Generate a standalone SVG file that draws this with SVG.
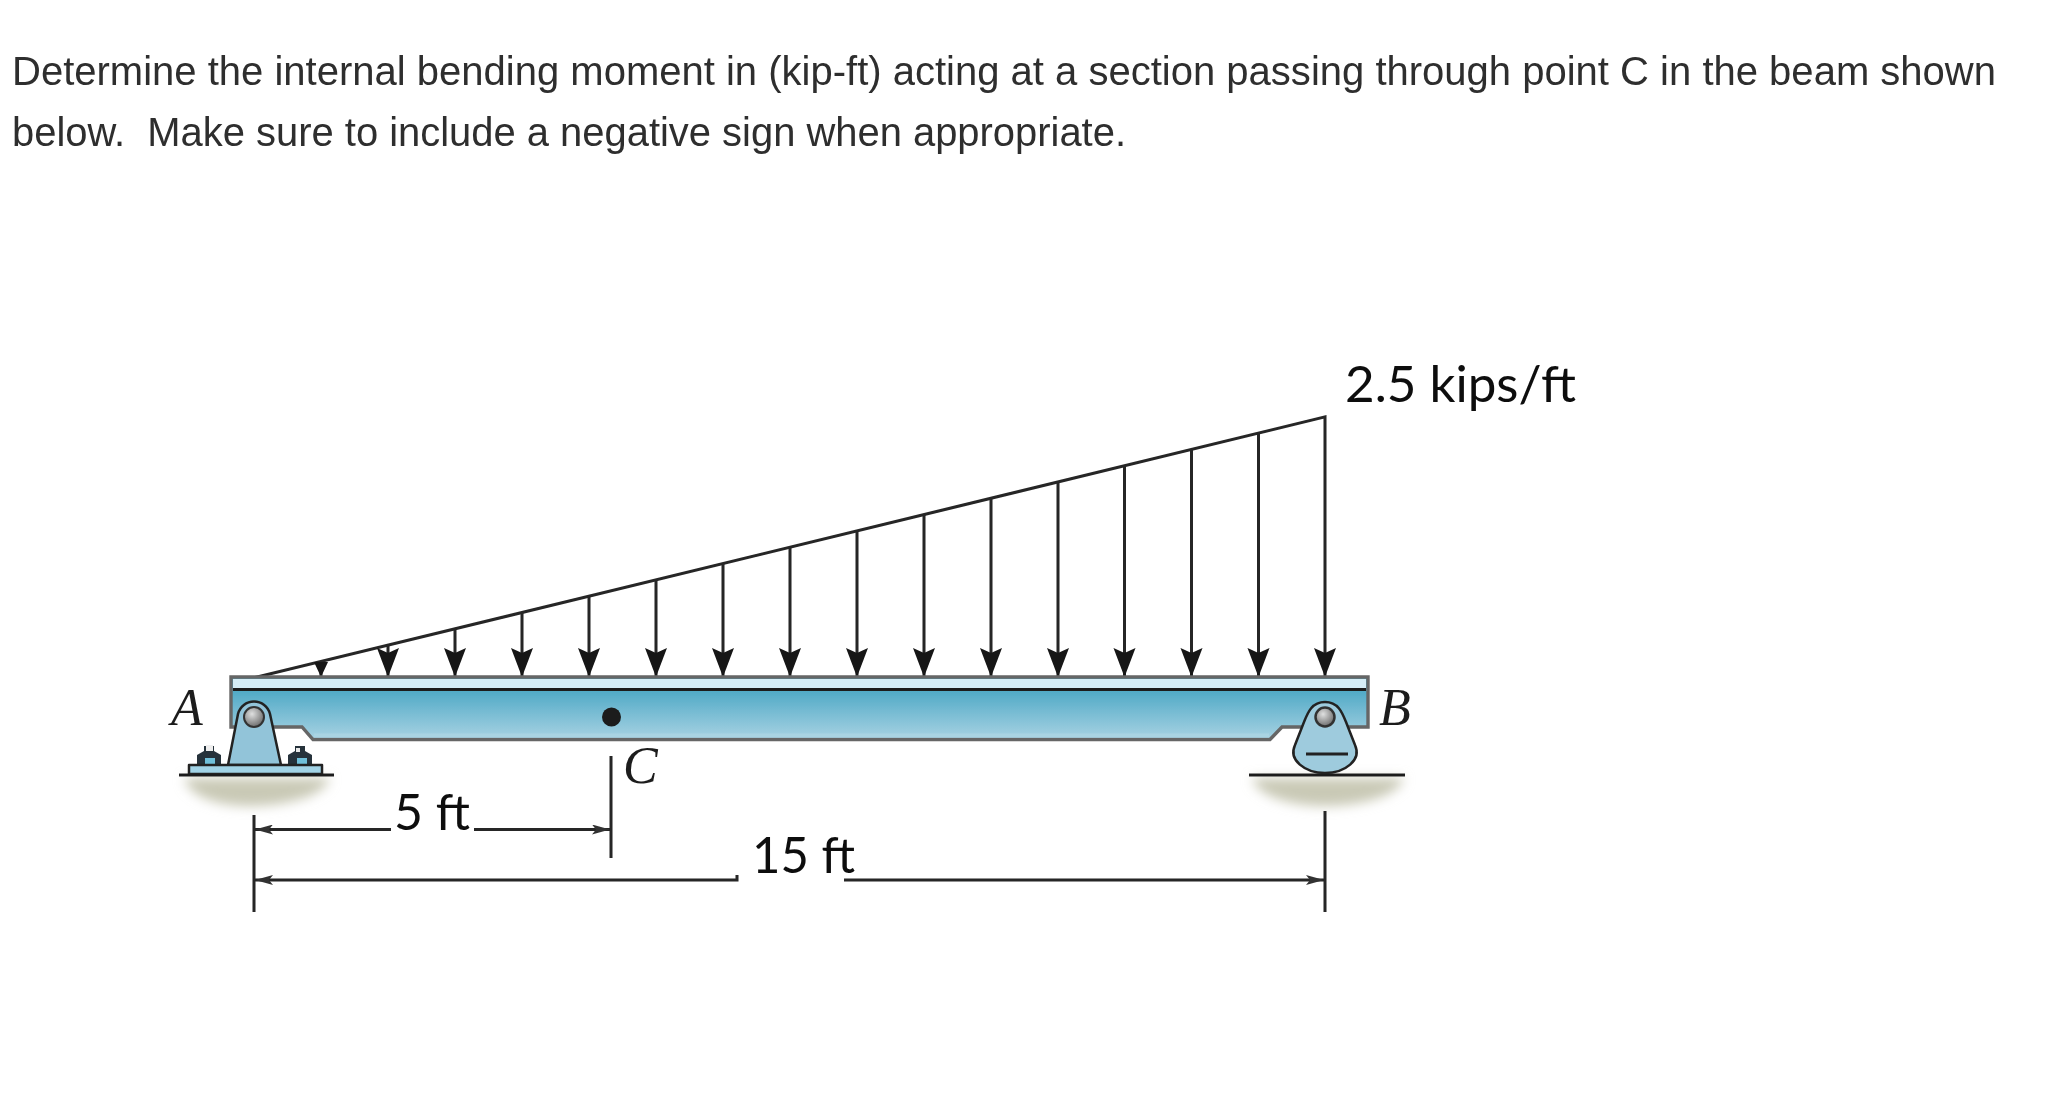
<svg xmlns="http://www.w3.org/2000/svg" width="2046" height="1094" viewBox="0 0 2046 1094">
<style>
.q{font-family:"Liberation Sans",Arial,sans-serif;font-size:40px;fill:#2e2e2e;white-space:pre}
.n{font-family:"Lato","Open Sans",sans-serif;font-size:51px;fill:#0c0c0c}
.l{font-family:"Liberation Serif","Times New Roman",serif;font-style:italic;font-size:52px;fill:#1c1c1c}
.s{stroke:#262626;stroke-width:3;fill:none}
.d{stroke:#262626;stroke-width:3;fill:none}
.o{stroke:#222;stroke-width:2.5;stroke-linejoin:round}
</style>
<defs>
<linearGradient id="body" gradientUnits="userSpaceOnUse" x1="0" y1="690" x2="0" y2="740">
<stop offset="0" stop-color="#4fa9c6"/><stop offset="1" stop-color="#a9d3e3"/>
</linearGradient>
<radialGradient id="pin" cx=".4" cy=".35" r=".7"><stop offset="0" stop-color="#dfe0e0"/><stop offset="1" stop-color="#666"/></radialGradient>
<filter id="soft" x="-5%" y="-5%" width="110%" height="110%"><feGaussianBlur stdDeviation=".7"/></filter>
<filter id="shadow" x="-20%" y="-50%" width="140%" height="200%"><feGaussianBlur stdDeviation="6"/></filter>
<path id="head" d="M0,0 L-11,-29 L0,-24 L11,-29 Z" fill="#161616"/>
<marker id="dim" viewBox="0 0 18 10" refX="18" refY="5" markerWidth="18" markerHeight="10" markerUnits="userSpaceOnUse" orient="auto-start-reverse"><path d="M0,0 L18,5 L0,10 L4,5 Z" fill="#333"/></marker>
</defs>
<rect width="2046" height="1094" fill="#fff"/>

<g id="question" filter="url(#soft)">
<text class="q" x="12" y="85" textLength="1984" lengthAdjust="spacingAndGlyphs">Determine the internal bending moment in (kip-ft) acting at a section passing through point C in the beam shown</text>
<text class="q" x="12" y="146" textLength="1114" lengthAdjust="spacingAndGlyphs">below.  Make sure to include a negative sign when appropriate.</text>
</g>

<g id="support-a-shadow"><path d="M184,778 H330 C324,798 280,806 250,806 C220,806 190,798 184,778 Z" fill="#c9c9b6" filter="url(#shadow)"/></g>
<g id="support-b-shadow"><path d="M1252,778 H1404 C1398,798 1355,806 1325,806 C1295,806 1258,798 1252,778 Z" fill="#c9c9b6" filter="url(#shadow)"/></g>

<g id="connectors" filter="url(#soft)">
<g id="load">
<path class="s" d="M253,678 L1325,416.900 V677" stroke-width="2.600"/>
<path class="s" d="M321,662V677M388,645V677M455,629V677M522,612.500V677M589,596V677M656,580V677M723,563.600V677M790,547.300V677M857,531V677M924,514.700V677M991,498.400V677M1058,482V677M1124.500,465.800V677M1191.500,449.500V677M1258.500,433.200V677"/>
<path d="M321,677 L314,662 H328 Z" fill="#161616"/>
<use href="#head" x="388" y="677"/><use href="#head" x="455" y="677"/><use href="#head" x="522" y="677"/><use href="#head" x="589" y="677"/><use href="#head" x="656" y="677"/><use href="#head" x="723" y="677"/><use href="#head" x="790" y="677"/><use href="#head" x="857" y="677"/><use href="#head" x="924" y="677"/><use href="#head" x="991" y="677"/><use href="#head" x="1058" y="677"/><use href="#head" x="1124.500" y="677"/><use href="#head" x="1191.500" y="677"/><use href="#head" x="1258.500" y="677"/><use href="#head" x="1325" y="677"/>
</g>
<g id="dimensions">
<path class="d" d="M254,815V912M611,756V858M1325,811V912"/>
<path class="d" d="M391,829.500H255" marker-end="url(#dim)"/>
<path class="d" d="M474,829.500H610" marker-end="url(#dim)"/>
<path class="d" d="M737,875V880H255" marker-end="url(#dim)"/>
<path class="d" d="M844,880H1324" marker-end="url(#dim)"/>
</g>
</g>

<g id="beam" filter="url(#soft)">
<path d="M231,677 H1368 V727 H1282 L1270,739.500 H313 L302,727 H231 Z" fill="url(#body)" stroke="#666" stroke-width="3.400"/>
<rect x="233" y="679" width="1133" height="9.500" fill="#d5edf6"/>
<path d="M233,689.500H1366" stroke="#1a1a1a" stroke-width="3"/>
<path d="M314,735.500H1269" stroke="#a9d4e3" stroke-width="4"/>
</g>

<g id="point-c"><circle cx="611.500" cy="717" r="9.500" fill="#1c1c1c"/></g>

<g id="support-a" filter="url(#soft)">
<path d="M228,765 L238,714 A16.500,16.500 0 0 1 270,714 L281,765 Z" fill="#92c4d9" class="o"/>
<circle cx="254" cy="717" r="10" fill="url(#pin)" stroke="#333" stroke-width="2"/>
<path d="M197,765 V755 L204,751 V746 H214 V751 L221,755 V765 Z" fill="#26323a"/>
<rect x="205" y="758" width="10" height="7" fill="#6fc0da"/>
<rect x="206" y="745" width="7" height="6" fill="#efefef"/>
<path d="M288,765 V755 L295,751 V746 H305 V751 L312,755 V765 Z" fill="#26323a"/>
<rect x="297" y="758" width="10" height="7" fill="#6fc0da"/>
<rect x="296" y="748" width="4" height="4" fill="#e8e8e8"/>
<rect x="189" y="765" width="133" height="9" fill="#a1d3e6" class="o"/>
<path d="M179,775H334" stroke="#1f1f1f" stroke-width="3"/>
</g>

<g id="support-b" filter="url(#soft)">
<path d="M1325,702 C1338,702 1342,712 1346,722 L1355,745 C1362,760 1345,773 1325,773 C1305,773 1288,760 1295,745 L1304,722 C1308,712 1312,702 1325,702 Z" fill="#9ecbdd" class="o"/>
<circle cx="1325" cy="717" r="9.500" fill="url(#pin)" stroke="#333" stroke-width="2.500"/>
<path d="M1306,754H1348" stroke="#222" stroke-width="3"/>
<path d="M1249,775H1405" stroke="#1f1f1f" stroke-width="3"/>
</g>

<g id="labels" filter="url(#soft)">
<text class="l" x="171" y="725">A</text>
<text class="l" x="1379" y="725">B</text>
<text class="l" x="623" y="783">C</text>
<text class="n" x="394" y="830" textLength="76" lengthAdjust="spacingAndGlyphs">5 ft</text>
<text class="n" x="752" y="873" textLength="103" lengthAdjust="spacingAndGlyphs">15 ft</text>
<text class="n" x="1345" y="402" textLength="231" lengthAdjust="spacingAndGlyphs">2.5 kips/ft</text>
</g>
</svg>
